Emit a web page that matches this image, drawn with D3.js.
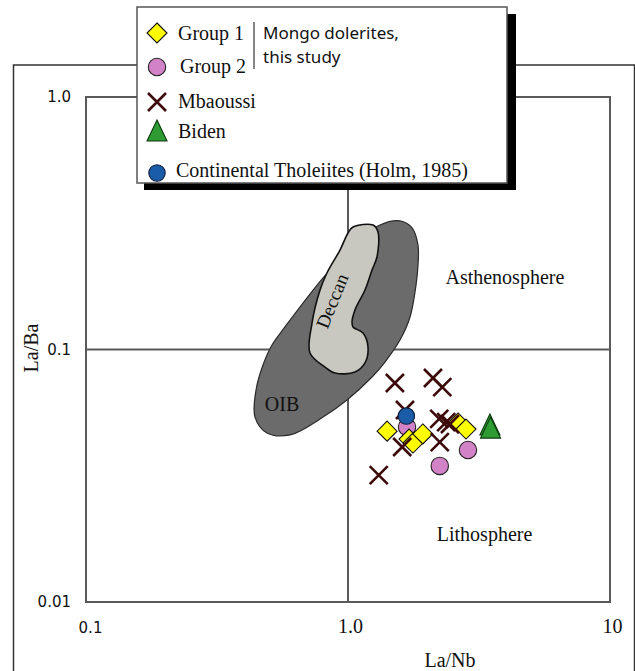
<!DOCTYPE html>
<html>
<head>
<meta charset="utf-8">
<script src="https://cdn.jsdelivr.net/npm/d3@7/dist/d3.min.js"></script>
<style>
  html, body { margin: 0; padding: 0; background: #fff; }
  svg { display: block; }
</style>
</head>
<body>
<script>
// La/Nb vs La/Ba discrimination diagram (log–log)

// Axis ticks
const xTicks = [0.1, 1, 10];
const xTickLabels = ["0.1", "1.0", "10"];
const yTicks = [0.01, 0.1, 1];
const yTickLabels = ["0.01", "0.1", "1.0"];

// Sample points: [La/Nb, La/Ba]
const group1 = [[1.41, 0.0475], [1.71, 0.0442], [1.77, 0.0426], [1.93, 0.0463], [2.63, 0.0512], [2.82, 0.0484]];
const group2 = [[1.68, 0.0493], [2.87, 0.0400], [2.24, 0.0346]];
const mbaoussi = [[1.51, 0.0737], [2.11, 0.0771], [2.29, 0.0710], [1.65, 0.0576], [2.23, 0.0531],
                  [2.37, 0.0516], [2.45, 0.0507], [1.61, 0.0411], [2.24, 0.0430], [1.31, 0.0318]];
const biden = [[3.48, 0.0498], [3.50, 0.0484]];
const holm = [[1.67, 0.0545]];

// Field outlines: [La/Nb, La/Ba]
const oibField = [[1.325, 0.311], [1.579, 0.323], [1.756, 0.303], [1.850, 0.259], [1.850, 0.216], [1.818, 0.180],
  [1.725, 0.1345], [1.579, 0.109], [1.384, 0.0892], [1.235, 0.0778], [0.991, 0.0631], [0.803, 0.054],
  [0.601, 0.0459], [0.491, 0.0467], [0.4416, 0.054], [0.4456, 0.0691], [0.4737, 0.0868], [0.5128, 0.1042],
  [0.5747, 0.1228], [0.803, 0.192], [1.018, 0.252]];
const deccanField = [[1.045, 0.3056], [1.246, 0.311], [1.302, 0.292], [1.290, 0.2325], [1.235, 0.2064], [1.161, 0.172],
  [1.063, 0.1434], [1.036, 0.1285], [1.045, 0.1228], [1.141, 0.1162], [1.192, 0.1023], [1.161, 0.0885],
  [1.063, 0.0814], [0.892, 0.0807], [0.817, 0.0852], [0.716, 0.0969], [0.729, 0.1273], [0.782, 0.172],
  [0.831, 0.2009], [0.932, 0.2477], [1.0, 0.2893]];

// Field labels: [text, La/Nb, La/Ba]
const fieldLabels = [["Asthenosphere", 3.97, 0.181], ["Lithosphere", 3.32, 0.0175], ["OIB", 0.56, 0.057]];
const deccanLabel = ["Deccan", 0.869, 0.1556];

const W = 635, H = 671;
const svg = d3.select("body").append("svg").attr("width", W).attr("height", H);

const x = d3.scaleLog().domain([0.1, 10]).range([86, 610]);
const y = d3.scaleLog().domain([0.01, 1]).range([602, 97]);

const serif = "'Liberation Serif', 'Times New Roman', serif";
const sans = "'DejaVu Sans', Verdana, sans-serif";
const gridCol = "#5a5a5a";

// Outer frame
svg.append("rect").attr("x", 13.5).attr("y", 65).attr("width", 621).attr("height", 700)
  .attr("fill", "none").attr("stroke", "#333").attr("stroke-width", 1.5);

// Plot box and dividing lines
svg.append("rect").attr("x", x(0.1)).attr("y", y(1))
  .attr("width", x(10) - x(0.1)).attr("height", y(0.01) - y(1))
  .attr("fill", "none").attr("stroke", gridCol).attr("stroke-width", 2);
svg.append("line").attr("x1", x(1)).attr("x2", x(1)).attr("y1", y(1)).attr("y2", y(0.01))
  .attr("stroke", gridCol).attr("stroke-width", 2);
svg.append("line").attr("x1", x(0.1)).attr("x2", x(10)).attr("y1", y(0.1)).attr("y2", y(0.1))
  .attr("stroke", gridCol).attr("stroke-width", 2);

// Axes (labels only)
const xAxis = svg.append("g").attr("transform", `translate(0,${y(0.01)})`)
  .call(d3.axisBottom(x).tickValues(xTicks).tickFormat((d, i) => xTickLabels[i]).tickSize(0));
xAxis.select(".domain").remove();
xAxis.selectAll("text")
  .attr("y", 31).attr("dy", 0).attr("fill", "#111")
  .style("font-family", (d, i) => i === 0 ? sans : serif)
  .style("font-size", (d, i) => i === 0 ? "15px" : "20px")
  .attr("dx", (d, i) => i === 0 ? 4 : 2);

const yAxis = svg.append("g").attr("transform", `translate(${x(0.1)},0)`)
  .call(d3.axisLeft(y).tickValues(yTicks).tickFormat((d, i) => yTickLabels[i]).tickSize(0).tickPadding(15));
yAxis.select(".domain").remove();
yAxis.selectAll("text").attr("fill", "#111")
  .style("font-family", sans).style("font-size", "15px");

// Axis titles
svg.append("text").attr("x", 450).attr("y", 667).attr("text-anchor", "middle")
  .style("font-family", serif).style("font-size", "20px").attr("fill", "#111").text("La/Nb");
svg.append("text").attr("transform", "translate(38,348) rotate(-90)").attr("text-anchor", "middle")
  .style("font-family", serif).style("font-size", "20px").attr("fill", "#111").text("La/Ba");

// Fields
const area = d3.line().x(d => x(d[0])).y(d => y(d[1])).curve(d3.curveCatmullRomClosed.alpha(0.5));
svg.append("path").attr("d", area(oibField)).attr("fill", "#6b6b6b").attr("stroke", "#2a2a2a").attr("stroke-width", 1.2);
svg.append("path").attr("d", area(deccanField)).attr("fill", "#c8c8c1").attr("stroke", "#111").attr("stroke-width", 1.6);

svg.selectAll("text.field").data(fieldLabels).join("text").attr("class", "field")
  .attr("x", d => x(d[1])).attr("y", d => y(d[2])).attr("text-anchor", "middle")
  .style("font-family", serif).style("font-size", "20px").attr("fill", "#111").text(d => d[0]);
svg.append("text")
  .attr("transform", `translate(${x(deccanLabel[1])},${y(deccanLabel[2])}) rotate(-68)`)
  .attr("text-anchor", "middle").attr("dominant-baseline", "central")
  .style("font-family", serif).style("font-size", "19px").attr("fill", "#111").text(deccanLabel[0]);

// Marker drawers
const sym = {
  diamond: g => g.append("path").attr("d", "M0,-10L10,0L0,10L-10,0Z")
    .attr("fill", "#ffff00").attr("stroke", "#111").attr("stroke-width", 1.1),
  circlePink: g => g.append("circle").attr("r", 8.7)
    .attr("fill", "#d282c6").attr("stroke", "#222").attr("stroke-width", 1.1),
  circleBlue: g => g.append("circle").attr("r", 8.2)
    .attr("fill", "#1b5ca8").attr("stroke", "#0d1f3a").attr("stroke-width", 1.1),
  cross: g => g.append("path").attr("d", "M-9,-9L9,9M9,-9L-9,9")
    .attr("fill", "none").attr("stroke", "#3c0a0a").attr("stroke-width", 2.6),
  triangle: g => g.append("path").attr("d", "M0,-12L10,9L-10,9Z")
    .attr("fill", "#2f9c33").attr("stroke", "#0b3a0d").attr("stroke-width", 1.1)
};

function plotSeries(data, kind) {
  const g = svg.append("g");
  data.forEach(d => {
    const m = g.append("g").attr("transform", `translate(${x(d[0])},${y(d[1])})`);
    sym[kind](m);
  });
}
plotSeries(group2, "circlePink");
plotSeries(group1, "diamond");
plotSeries(mbaoussi, "cross");
plotSeries(holm, "circleBlue");
plotSeries(biden, "triangle");

// Legend
const lg = svg.append("g");
lg.append("rect").attr("x", 144).attr("y", 14).attr("width", 372).attr("height", 176).attr("fill", "#000");
lg.append("rect").attr("x", 137).attr("y", 7).attr("width", 370).attr("height", 176)
  .attr("fill", "#fff").attr("stroke", "#555").attr("stroke-width", 1.5);

const legendItems = [
  { kind: "diamond", label: "Group 1", my: 33, tx: 178, ty: 40 },
  { kind: "circlePink", label: "Group 2", my: 67, tx: 180, ty: 73 },
  { kind: "cross", label: "Mbaoussi", my: 102, tx: 178, ty: 108 },
  { kind: "triangle", label: "Biden", my: 132, tx: 178, ty: 138 },
  { kind: "circleBlue", label: "Continental Tholeiites (Holm, 1985)", my: 173, tx: 176, ty: 177 }
];
legendItems.forEach(it => {
  const m = lg.append("g").attr("transform", `translate(157,${it.my})`);
  sym[it.kind](m);
  lg.append("text").attr("x", it.tx).attr("y", it.ty)
    .style("font-family", serif).style("font-size", "20px").attr("fill", "#111").text(it.label);
});
lg.append("line").attr("x1", 254).attr("x2", 254).attr("y1", 22).attr("y2", 69)
  .attr("stroke", "#444").attr("stroke-width", 1.3);
lg.append("text").attr("x", 263).attr("y", 39)
  .style("font-family", "'Noto Sans', sans-serif").style("font-size", "17px").attr("fill", "#111").text("Mongo dolerites,");
lg.append("text").attr("x", 263).attr("y", 63)
  .style("font-family", "'Noto Sans', sans-serif").style("font-size", "17px").attr("fill", "#111").text("this study");
</script>
</body>
</html>
